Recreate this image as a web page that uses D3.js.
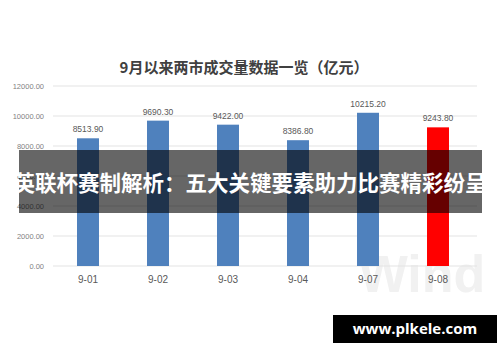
<!DOCTYPE html>
<html><head><meta charset="utf-8">
<script src="https://cdn.jsdelivr.net/npm/d3@7/dist/d3.min.js"></script>
<style>body{margin:0;background:#fff}svg{display:block}</style>
</head><body>
<script>
const categories = ["9-01","9-02","9-03","9-04","9-07","9-08"];
const values = [8513.90, 9690.30, 9422.00, 8386.80, 10215.20, 9243.80];
const yTicks = [0, 2000, 4000, 6000, 8000, 10000, 12000];
const title = "9月以来两市成交量数据一览（亿元）";
const banner = "英联杯赛制解析：五大关键要素助力比赛精彩纷呈";
const site = "www.plkele.com";

const W = 500, H = 362;
const svg = d3.select("body").append("svg").attr("width", W).attr("height", H);
const x = d3.scaleBand().domain(categories).range([53, 473]).paddingInner(0.686).paddingOuter(0.343);
const y = d3.scaleLinear().domain([0, 12000]).range([266, 86]);

// watermark
svg.append("text").attr("x", 422).attr("y", 292).attr("text-anchor", "middle")
  .attr("font-family", "Liberation Sans, Arial, sans-serif").attr("font-weight", "bold")
  .attr("font-size", 52).attr("fill", "#f1f1f1").text("Wind");

// gridlines
svg.append("g").selectAll("line").data(yTicks).join("line")
  .attr("x1", 53).attr("x2", 477).attr("y1", d => y(d)).attr("y2", d => y(d))
  .attr("stroke", "#e3e3e3").attr("stroke-width", 1);

// y axis labels
const yAxis = d3.axisLeft(y).tickValues(yTicks).tickFormat(d3.format(".2f")).tickSize(0).tickPadding(0);
const yg = svg.append("g").attr("transform", "translate(44,0)").call(yAxis);
yg.select(".domain").remove();
yg.selectAll("text").attr("font-size", 7.5).attr("fill", "#7f7f7f").attr("font-family", "Liberation Sans, Arial, sans-serif");

// bars
svg.append("g").selectAll("rect").data(values).join("rect")
  .attr("x", (d, i) => x(categories[i])).attr("width", x.bandwidth())
  .attr("y", d => y(d)).attr("height", d => y(0) - y(d))
  .attr("fill", (d, i) => i === values.length - 1 ? "#ff0000" : "#4f81bd");

// value labels
svg.append("g").selectAll("text").data(values).join("text")
  .attr("x", (d, i) => x(categories[i]) + x.bandwidth() / 2).attr("y", d => y(d) - 6)
  .attr("text-anchor", "middle").attr("font-size", 8.5).attr("fill", "#595959")
  .attr("font-family", "Liberation Sans, Arial, sans-serif")
  .text(d => d3.format(".2f")(d));

// x axis labels
const xAxis = d3.axisBottom(x).tickSize(0).tickPadding(0);
const xg = svg.append("g").attr("transform", "translate(0,276)").call(xAxis);
xg.select(".domain").remove();
xg.selectAll("text").attr("font-size", 10).attr("fill", "#595959").attr("font-family", "Liberation Sans, Arial, sans-serif");

// title
svg.append("text").attr("x", 244).attr("y", 73).attr("text-anchor", "middle")
  .attr("font-size", 15).attr("font-weight", "bold").attr("fill", "#404040")
  .attr("font-family", "Noto Sans CJK SC, sans-serif").text(title);

// banner
svg.append("rect").attr("x", 19).attr("y", 150).attr("width", 463).attr("height", 63)
  .attr("fill", "#000").attr("fill-opacity", 0.6);
svg.append("text").attr("x", 250).attr("y", 191).attr("text-anchor", "middle")
  .attr("font-size", 21.5).attr("font-weight", "bold").attr("fill", "#fff")
  .attr("font-family", "Noto Sans CJK SC, sans-serif").text(banner);

// site box
svg.append("rect").attr("x", 333).attr("y", 315).attr("width", 164).attr("height", 28).attr("fill", "#000");
svg.append("text").attr("x", 415).attr("y", 334).attr("text-anchor", "middle")
  .attr("font-size", 15).attr("font-weight", "bold").attr("fill", "#fff")
  .attr("font-family", "Open Sans, DejaVu Sans, sans-serif").text(site);
</script>
</body></html>
